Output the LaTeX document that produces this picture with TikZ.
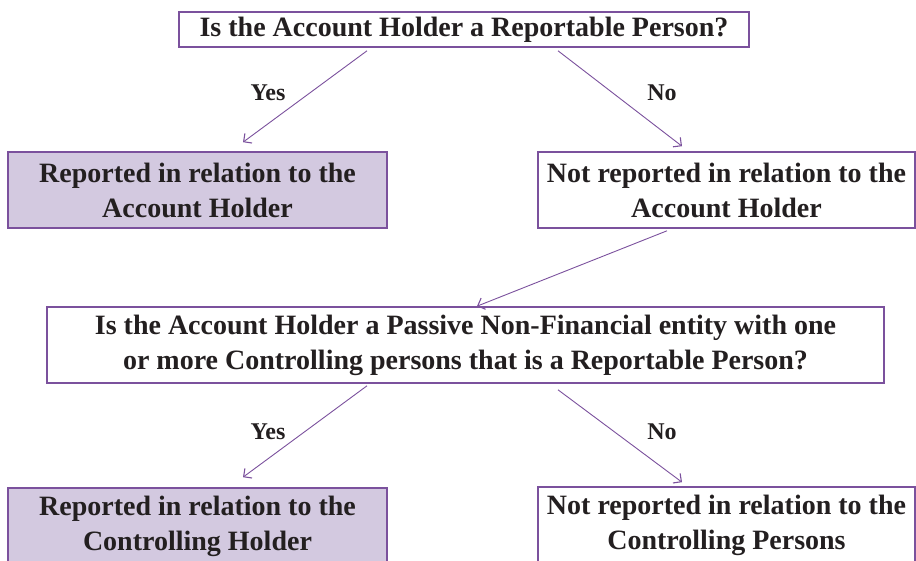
\documentclass[tikz,border=0pt]{standalone}
\usepackage{fontspec}
\setmainfont{Liberation Serif}
\usetikzlibrary{arrows.meta}
\definecolor{linepurple}{HTML}{7B519D}
\definecolor{boxfill}{HTML}{D3C9E0}
\definecolor{txt}{HTML}{231F20}
\tikzset{
  box/.style={draw=linepurple, line width=1.6pt, rectangle, inner sep=0pt, text=txt,
    font=\fontsize{28}{35}\selectfont\bfseries, align=center},
  filled/.style={box, fill=boxfill},
  arr/.style={draw=linepurple, line width=0.9pt, -{Straight Barb[length=6pt,width=12pt,line width=1.1pt]}},
  lbl/.style={text=txt, font=\fontsize{24}{28}\selectfont\bfseries, inner sep=0pt}
}
\begin{document}
\begin{tikzpicture}[x=1pt,y=-1pt]
\useasboundingbox (0,0) rectangle (916,561);
% top question
\node[box, minimum width=570pt, minimum height=35pt] (q1) at (464,29.5) {Is the Account Holder a Reportable Person?};
\node[filled, minimum width=379pt, minimum height=76pt] (r1) at (197.5,190) {Reported in relation to the\\Account Holder};
\node[box, minimum width=377pt, minimum height=76pt] (n1) at (726.5,190) {Not reported in relation to the\\Account Holder};
% middle question
\node[box, minimum width=837pt, minimum height=76pt] (q2) at (465.5,345) {Is the Account Holder a Passive Non-Financial entity with one\\or more Controlling persons that is a Reportable Person?};
% bottom results
\node[filled, minimum width=379pt, minimum height=76pt] (r2) at (197.5,526) {Reported in relation to the\\Controlling Holder};
\node[box, minimum width=377pt, minimum height=76pt] (n2) at (726.5,525) {Not reported in relation to the\\Controlling Persons};
% arrows
\draw[arr] ([shift={(-97,3)}]q1.south) -- ([shift={(45.5,-9)}]r1.north);
\draw[arr] ([shift={(94,3)}]q1.south) -- ([shift={(-44.5,-5)}]n1.north);
\draw[arr] ([shift={(-59.5,2)}]n1.south) -- ([shift={(11.5,0)}]q2.north);
\draw[arr] ([shift={(-98.5,2)}]q2.south) -- ([shift={(45.5,-10)}]r2.north);
\draw[arr] ([shift={(92.5,6)}]q2.south) -- ([shift={(-44.5,-4)}]n2.north);
% labels
\node[lbl] (y1) at (268,93) {Yes};
\node[lbl] (no1) at (662,93) {No};
\node[lbl] (y2) at (268,432) {Yes};
\node[lbl] (no2) at (662,432) {No};
\end{tikzpicture}
\end{document}
